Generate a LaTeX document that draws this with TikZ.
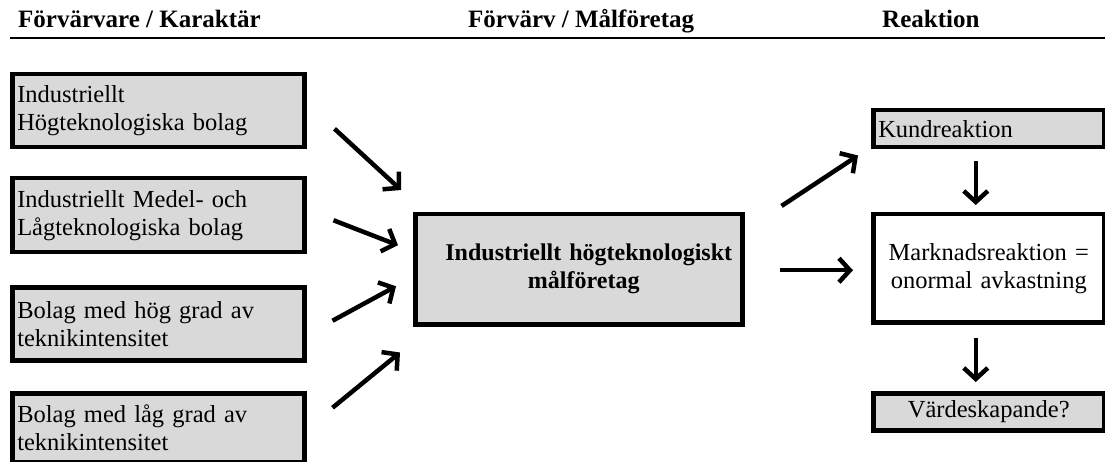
\documentclass[tikz,border=0pt]{standalone}
\usepackage{fontspec}
\setmainfont{Liberation Serif}
\usetikzlibrary{arrows.meta,calc}
\definecolor{boxgray}{HTML}{D9D9D9}
\begin{document}
\begin{tikzpicture}[x=1pt,y=-1pt,
  every node/.style={font=\fontsize{24.5}{28}\selectfont},
  lbox/.style={draw, line width=4.5pt, fill=boxgray, anchor=north west, minimum width=292pt, text width=282pt, inner xsep=5pt, inner ysep=0pt, align=left},
  rbox/.style={draw, line width=4.5pt, anchor=north west, minimum width=231pt, inner xsep=5pt, inner ysep=0pt},
  hdr/.style={font=\fontsize{25}{28}\selectfont\bfseries, anchor=base west, inner sep=0pt},
  arr/.style={line width=4.5pt, -{Straight Barb[length=11pt,width=24pt,line width=4.5pt]}}]
\useasboundingbox (0,0) rectangle (1105,462);
% headers
\node[hdr] (h1) at (18,28) {Förvärvare / Karaktär};
\node[hdr] (h2) at (468,28) {Förvärv / Målföretag};
\node[hdr] (h3) at (882,28) {Reaktion};
\draw[line width=2pt] (10,38) -- (1105,38);
% left boxes
\node[lbox, minimum height=73pt] (b1) at (10,72) {Industriellt\\Högteknologiska bolag};
\node[lbox, minimum height=74pt] (b2) at (10,176) {Industriellt Medel- och\\Lågteknologiska bolag};
\node[lbox, minimum height=73pt] (b3) at (10,285) {Bolag med hög grad av\\teknikintensitet};
\node[lbox, minimum height=69pt] (b4) at (10,391) {Bolag med låg grad av\\teknikintensitet};
% center
\node[draw, line width=4.5pt, fill=boxgray, anchor=north west, minimum width=327pt, minimum height=110pt, text width=307pt, inner xsep=10pt, align=center, font=\fontsize{24}{28}\selectfont\bfseries] (c) at (413,212) {\hspace*{20pt}Industriellt högteknologiskt\\\hspace*{10pt}målföretag};
% right boxes
\node[rbox, fill=boxgray, minimum height=37pt, text width=221pt, align=left] (k) at (871,108) {Kundreaktion};
\node[rbox, fill=white, minimum height=108pt, text width=221pt, align=center] (m) at (871,212) {Marknadsreaktion =\\onormal avkastning};
\node[rbox, fill=boxgray, minimum height=37pt, text width=221pt, align=center] (v) at (871,391) {Värdeskapande?};
% arrows
\draw[arr] ($(b1.east)+(28,18)$) -- ($(c.north west)+(-12,-22)$);
\draw[arr] ($(b2.east)+(27,5)$) -- ($(c.west)+(-15,-24)$);
\draw[arr] ($(b3.east)+(26,-3)$) -- ($(c.west)+(-17,17)$);
\draw[arr] ($(b4.east)+(26,-20)$) -- ($(c.south west)+(-13,26)$);
\draw[arr] ($(c.north east)+(37,-6)$) -- ($(k.south west)+(-13,6)$);
\draw[arr] ($(c.east)+(35,1)$) -- ($(m.west)+(-18,2)$);
\draw[arr] ($(k.south)+(-13,12)$) -- ($(m.north)+(-13,-7)$);
\draw[arr] ($(m.south)+(-13,13)$) -- ($(v.north)+(-13,-9)$);
\end{tikzpicture}
\end{document}
